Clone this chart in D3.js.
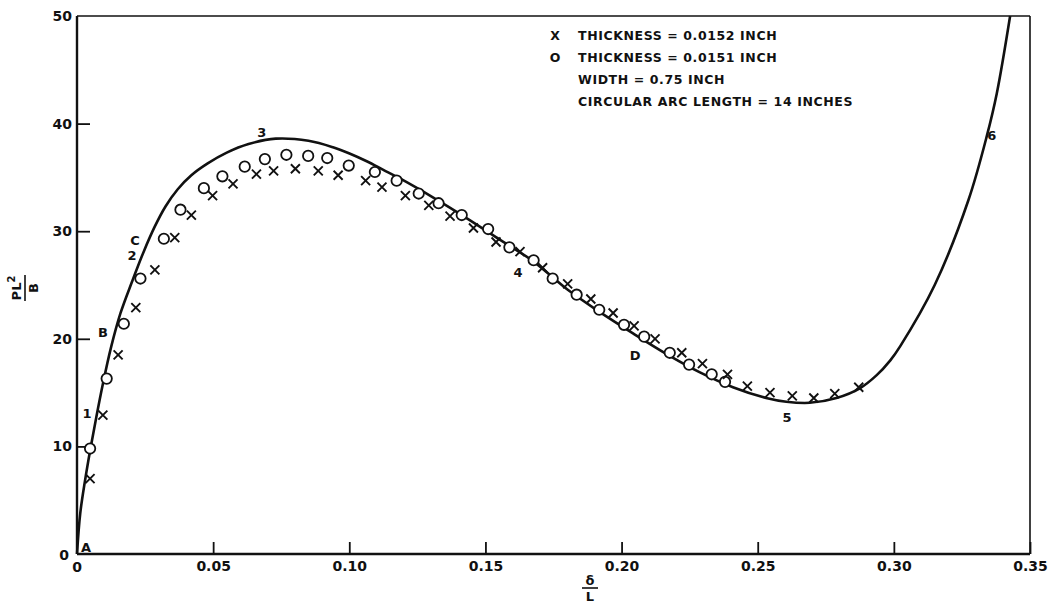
<!DOCTYPE html>
<html>
<head>
<meta charset="utf-8">
<script src="https://cdn.jsdelivr.net/npm/d3@7"></script>
<style>
  body { margin: 0; background: #fff; }
  svg { display: block; }
  text { font-family: "DejaVu Sans", sans-serif; font-weight: bold; fill: #111; }
</style>
</head>
<body>
<svg id="chart" width="1052" height="608"></svg>
<script>
// theory curve (solid line)
const curveX = [0, 0.0012, 0.003, 0.0048, 0.007, 0.0095, 0.0125, 0.016, 0.0202, 0.0245, 0.0285, 0.0325, 0.037, 0.042, 0.048, 0.055, 0.063, 0.073, 0.085, 0.094, 0.1003, 0.1064, 0.1125, 0.1186, 0.131, 0.1432, 0.1554, 0.1676, 0.18, 0.1919, 0.2042, 0.2164, 0.2286, 0.2409, 0.2531, 0.2605, 0.2691, 0.2789, 0.2875, 0.2936, 0.2987, 0.3023, 0.315, 0.3274, 0.3342, 0.3378, 0.3427];
const curveY = [0, 3.8, 6.9, 9.6, 12.6, 15.8, 19.2, 22.4, 25.3, 28.1, 30.4, 32.3, 33.9, 35.2, 36.3, 37.3, 38.1, 38.6, 38.4, 37.8, 37.2, 36.5, 35.7, 34.9, 33.1, 31.2, 29.2, 27.2, 24.6, 22.5, 20.5, 18.6, 16.9, 15.5, 14.5, 14.15, 14.05, 14.5, 15.4, 16.6, 18.0, 19.3, 25.0, 32.9, 38.9, 42.8, 50];

// thickness = 0.0151 inch (circles)
const circX = [0.0048, 0.0109, 0.0172, 0.0233, 0.0319, 0.038, 0.0466, 0.0534, 0.0616, 0.069, 0.0769, 0.0849, 0.0919, 0.0998, 0.1094, 0.1174, 0.1255, 0.1328, 0.1413, 0.151, 0.1588, 0.1677, 0.1747, 0.1835, 0.1918, 0.2009, 0.2083, 0.2177, 0.2248, 0.2331, 0.238];
const circY = [9.8, 16.3, 21.4, 25.6, 29.3, 32.0, 34.0, 35.1, 36.0, 36.7, 37.1, 37.0, 36.8, 36.1, 35.5, 34.7, 33.5, 32.6, 31.5, 30.2, 28.5, 27.3, 25.6, 24.1, 22.7, 21.3, 20.2, 18.7, 17.6, 16.7, 16.0];

// thickness = 0.0152 inch (crosses)
const crossX = [0.0048, 0.0095, 0.0151, 0.0216, 0.0286, 0.0359, 0.042, 0.0498, 0.0573, 0.0659, 0.0722, 0.0802, 0.0886, 0.0959, 0.106, 0.112, 0.1206, 0.1292, 0.137, 0.1456, 0.1539, 0.1627, 0.171, 0.1802, 0.1887, 0.1969, 0.2046, 0.2123, 0.2221, 0.2297, 0.2389, 0.2462, 0.2545, 0.2627, 0.2706, 0.2783, 0.2871];
const crossY = [7.0, 12.9, 18.5, 22.9, 26.4, 29.4, 31.5, 33.3, 34.4, 35.3, 35.6, 35.8, 35.6, 35.2, 34.7, 34.1, 33.3, 32.4, 31.4, 30.3, 29.0, 28.1, 26.6, 25.1, 23.7, 22.4, 21.2, 20.0, 18.7, 17.7, 16.7, 15.6, 15.0, 14.7, 14.5, 14.9, 15.5];

// point labels written along the curve
const noteText = ["A", "1", "B", "2", "C", "3", "4", "D", "5", "6"];
const noteX = [0.0033, 0.0037, 0.0095, 0.0202, 0.0213, 0.0679, 0.162, 0.205, 0.2608, 0.336];
const noteY = [0.65, 13.1, 20.6, 27.8, 29.2, 39.2, 26.2, 18.5, 12.7, 38.9];

const xTicks = [0.05, 0.10, 0.15, 0.20, 0.25, 0.30, 0.35];
const yTicks = [10, 20, 30, 40, 50];

const legendMarks = ["X", "O", "", ""];
const legendLines = ["THICKNESS = 0.0152 INCH", "THICKNESS = 0.0151 INCH", "WIDTH = 0.75 INCH", "CIRCULAR ARC LENGTH = 14 INCHES"];

const svg = d3.select("#chart");
const x = d3.scaleLinear().domain([0, 0.35]).range([77, 1030]);
const y = d3.scaleLinear().domain([0, 50]).range([554, 16]);

// frame: heavy left/bottom axes, lighter top/right
svg.append("line").attr("x1", x(0)).attr("x2", x(0.35)).attr("y1", y(50)).attr("y2", y(50))
    .attr("stroke", "#111").attr("stroke-width", 1.6);
svg.append("line").attr("x1", x(0.35)).attr("x2", x(0.35)).attr("y1", y(50)).attr("y2", y(0))
    .attr("stroke", "#111").attr("stroke-width", 1.6);
svg.append("line").attr("x1", x(0)).attr("x2", x(0)).attr("y1", y(50)).attr("y2", y(0))
    .attr("stroke", "#111").attr("stroke-width", 2.4);
svg.append("line").attr("x1", x(0)).attr("x2", x(0.35)).attr("y1", y(0)).attr("y2", y(0))
    .attr("stroke", "#111").attr("stroke-width", 2.4);

// inward ticks
const xAxis = d3.axisBottom(x).tickValues(xTicks).tickSize(-12).tickPadding(7)
    .tickFormat(d3.format(".2f"));
const gx = svg.append("g").attr("transform", `translate(0,${y(0)})`).call(xAxis);
gx.select(".domain").remove();
gx.selectAll(".tick line").attr("stroke", "#111").attr("stroke-width", 1.8);
gx.selectAll(".tick text").attr("font-size", 14).attr("font-family", "DejaVu Sans").attr("fill", "#111");

const yAxis = d3.axisLeft(y).tickValues(yTicks).tickSize(-13).tickPadding(18);
const gy = svg.append("g").attr("transform", `translate(${x(0)},0)`).call(yAxis);
gy.select(".domain").remove();
gy.selectAll(".tick line").attr("stroke", "#111").attr("stroke-width", 1.8);
gy.selectAll(".tick text").attr("font-size", 14).attr("font-family", "DejaVu Sans").attr("fill", "#111")
    .attr("dx", 13);
gy.selectAll(".tick").filter(d => d === 50).select("line").remove();

// the two zeros at the origin
svg.append("text").attr("x", x(0) - 13).attr("y", y(0) + 6).attr("text-anchor", "middle")
    .attr("font-size", 14).text("0");
svg.append("text").attr("x", x(0)).attr("y", y(0) + 18).attr("text-anchor", "middle")
    .attr("font-size", 14).text("0");

// axis titles as stacked fractions
const yt = svg.append("g").attr("transform", "translate(25,288) rotate(-90)");
yt.append("text").attr("text-anchor", "middle").attr("y", -4).attr("font-size", 13)
    .html('PL<tspan dy="-6" font-size="10">2</tspan>');
yt.append("line").attr("x1", -13).attr("x2", 13).attr("y1", 0).attr("y2", 0)
    .attr("stroke", "#111").attr("stroke-width", 1.6);
yt.append("text").attr("text-anchor", "middle").attr("y", 13).attr("font-size", 13).text("B");

const xt = svg.append("g").attr("transform", "translate(590,588)");
xt.append("text").attr("text-anchor", "middle").attr("y", -3).attr("font-size", 13).text("δ");
xt.append("line").attr("x1", -8).attr("x2", 8).attr("stroke", "#111").attr("stroke-width", 1.6);
xt.append("text").attr("text-anchor", "middle").attr("y", 13).attr("font-size", 13).text("L");

// theory curve
const curvePts = curveX.map((d, i) => [d, curveY[i]]);
svg.append("path")
    .datum(curvePts)
    .attr("fill", "none")
    .attr("stroke", "#111")
    .attr("stroke-width", 2.6)
    .attr("d", d3.line().x(d => x(d[0])).y(d => y(d[1])).curve(d3.curveCatmullRom.alpha(0.5)));

// circles
svg.append("g").selectAll("circle")
    .data(circX.map((d, i) => [d, circY[i]]))
    .enter().append("circle")
    .attr("cx", d => x(d[0])).attr("cy", d => y(d[1])).attr("r", 5.2)
    .attr("fill", "#fff").attr("stroke", "#111").attr("stroke-width", 1.8);

// crosses
const cs = 4.5;
svg.append("g").selectAll("path")
    .data(crossX.map((d, i) => [d, crossY[i]]))
    .enter().append("path")
    .attr("d", d => {
        const cx = x(d[0]), cy = y(d[1]);
        return `M${cx - cs},${cy - cs}L${cx + cs},${cy + cs}M${cx + cs},${cy - cs}L${cx - cs},${cy + cs}`;
    })
    .attr("stroke", "#111").attr("stroke-width", 1.9).attr("fill", "none");

// curve annotations
svg.append("g").selectAll("text")
    .data(noteText.map((t, i) => ({ t: t, x: noteX[i], y: noteY[i] })))
    .enter().append("text")
    .attr("x", d => x(d.x)).attr("y", d => y(d.y) + 5)
    .attr("text-anchor", "middle").attr("font-size", 13)
    .text(d => d.t);

// legend block
const lg = svg.append("g");
legendLines.forEach((s, i) => {
    const ly = 40 + i * 22;
    if (legendMarks[i]) {
        lg.append("text").attr("x", 555).attr("y", ly).attr("text-anchor", "middle")
            .attr("font-size", 12.5).text(legendMarks[i]);
    }
    lg.append("text").attr("x", 578).attr("y", ly).attr("font-size", 12.5)
        .attr("letter-spacing", 0.6).text(s);
});
</script>
</body>
</html>
